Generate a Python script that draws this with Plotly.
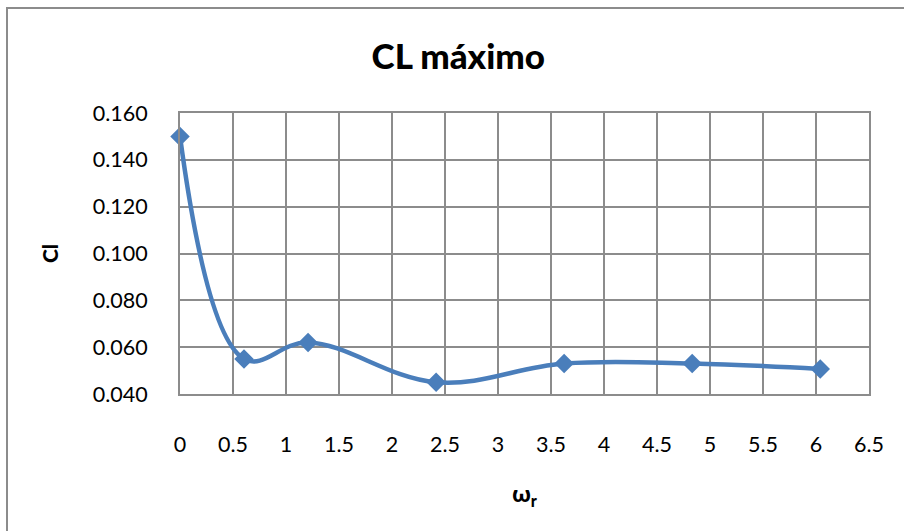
import plotly.graph_objects as go

# Maximum lift coefficient against reduced frequency
omega_r = [0.0, 0.604, 1.208, 2.416, 3.624, 4.832, 6.040]
cl_max = [0.150, 0.055, 0.062, 0.045, 0.053, 0.053, 0.0507]

x_ticks = [0, 0.5, 1, 1.5, 2, 2.5, 3, 3.5, 4, 4.5, 5, 5.5, 6, 6.5]
y_ticks = [0.040, 0.060, 0.080, 0.100, 0.120, 0.140, 0.160]

FONT = "Lato, 'Open Sans', sans-serif"
BLUE = "#4A7EBB"
GRID = "#8C8C8C"

fig = go.Figure()
fig.add_trace(go.Scatter(
    x=omega_r, y=cl_max,
    mode="lines+markers",
    line=dict(color=BLUE, width=4.5, shape="spline", smoothing=1.1),
    marker=dict(symbol="diamond", size=15, color=BLUE),
    showlegend=False,
    cliponaxis=False,
))

fig.update_layout(
    width=904, height=531,
    margin=dict(l=180, r=35, t=113, b=137),
    paper_bgcolor="white",
    plot_bgcolor="white",
    font=dict(family=FONT, color="black", size=21.5),
    title=dict(text="CL máximo", x=0.507, xanchor="center",
               y=1 - 57 / 531, yanchor="middle",
               font=dict(family=FONT, size=35, color="black", weight=900)),
    xaxis=dict(
        range=[0, 6.5], tickvals=x_ticks,
        ticktext=[f"{v:g}" for v in x_ticks],
        showgrid=True, gridcolor=GRID, gridwidth=1.5,
        showline=True, linecolor=GRID, linewidth=2, mirror=True,
        zeroline=False, ticks="", ticklabelstandoff=30,
        title=dict(text="ω<sub>r</sub>", standoff=30,
                   font=dict(family=FONT, size=23, weight=900)),
    ),
    yaxis=dict(
        range=[0.040, 0.160], tickvals=y_ticks,
        ticktext=[f"{v:.3f}" for v in y_ticks],
        showgrid=True, gridcolor=GRID, gridwidth=1.5,
        showline=True, linecolor=GRID, linewidth=2, mirror=True,
        zeroline=False, ticks="", ticklabelstandoff=26,
        title=dict(text="Cl", standoff=28,
                   font=dict(family=FONT, size=21, weight=900)),
    ),
)

# Chart-area frame
fig.add_shape(type="rect", xref="paper", yref="paper",
              x0=-173 / 689, x1=1 + 40 / 689,
              y0=-160 / 281, y1=1 + 105 / 281,
              line=dict(color="#8C8C8C", width=2), fillcolor="rgba(0,0,0,0)",
              layer="below")

fig.write_html("out.html")
